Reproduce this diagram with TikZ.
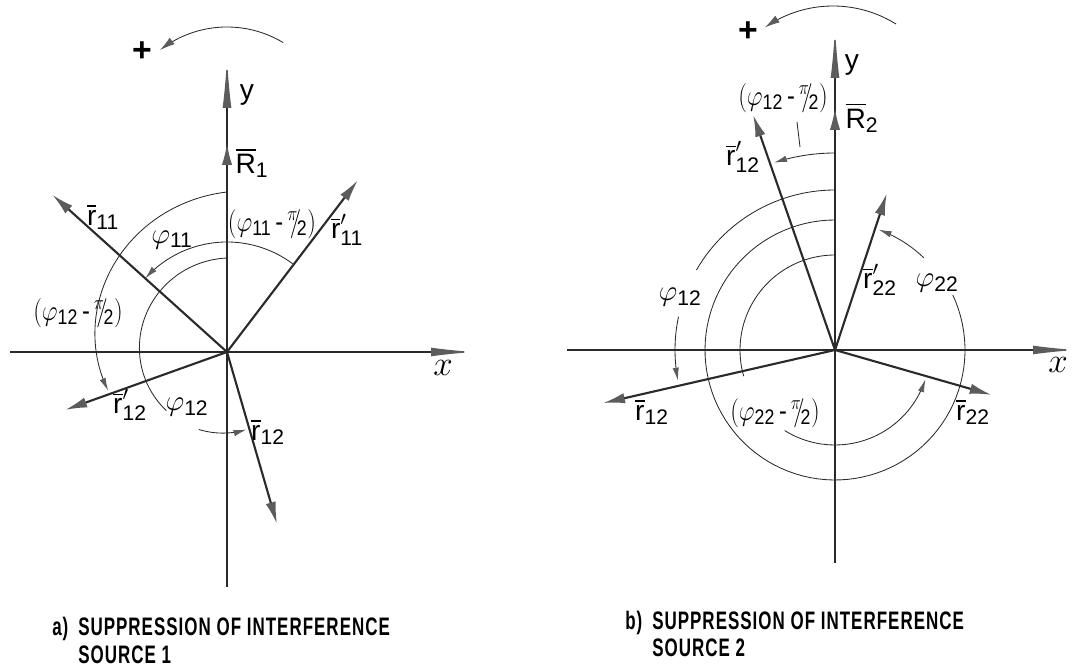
\documentclass[tikz,border=0pt]{standalone}
\usepackage{amsmath}
\usepackage{fontspec}
\setmainfont{Liberation Sans}
\newfontfamily\capfont[FakeStretch=0.67,LetterSpace=4]{Liberation Sans}
\usetikzlibrary{arrows.meta,positioning,calc}
\definecolor{inkline}{HTML}{2A2A2A}
\definecolor{inktip}{HTML}{5C5C5C}
\DeclareMathSizes{20}{20}{15}{12}
\newcommand{\rv}[1]{$\overline{\text{r}}_{\text{#1}}$}
\newcommand{\rvp}[1]{$\overline{\text{r}}'_{\text{#1}}$}
\newcommand{\phv}[1]{$\varphi_{\text{#1}}$}
\newcommand{\phm}[1]{\scalebox{0.84}[1]{$(\varphi_{\text{#1}}\,\text{-}\,{}^{\pi}\!\!/\!_{\text{2}})$}}

\begin{document}
\begin{tikzpicture}[x=0.25mm,y=0.25mm,
  axis/.style={draw=inkline,line width=1pt,-{Latex[length=#1,width=2.2mm,color=inktip]}},
  vec/.style={draw=inkline,line width=1.5pt,-{Latex[length=5.5mm,width=2.6mm,color=inktip]}},
  arcln/.style={draw=inkline,line width=0.6pt},
  arcarr/.style={arcln,-{Latex[length=3.2mm,width=1.6mm,color=inktip]}},
  turn/.style={arcln,-{Latex[length=3.8mm,width=2mm,color=inktip]}},
  lbl/.style={inner sep=1pt,font=\fontsize{20}{23}\selectfont},
  axlbl/.style={inner sep=1pt,font=\fontsize{28}{30}\selectfont},
  pluslbl/.style={inner sep=1pt,font=\bfseries\fontsize{24}{26}\selectfont},
  captxt/.style={inner sep=0pt,font=\capfont\bfseries\fontsize{18}{20}\selectfont}]
  \useasboundingbox (0,0) rectangle (1087,670);

  % a) source 1
  \coordinate (o1) at (227,318);
  \coordinate (x1a) at (10,318);
  \coordinate (x1b) at (475,318);
  \coordinate (y1a) at (227,83);
  \coordinate (y1b) at (227,612);
  \coordinate (R1) at (227,527);
  \coordinate (r11) at ($(o1)+(138:235)$);
  \coordinate (r11p) at ($(o1)+(52.7:216)$);
  \coordinate (r12p) at ($(o1)+(199.7:172)$);
  \coordinate (r12) at ($(o1)+(-73.8:179)$);
  \draw[axis=11mm] (x1a) -- (x1b);
  \draw[axis=12.5mm] (y1a) -- (y1b);
  \draw[vec] (o1) -- (R1);
  \draw[vec] (o1) -- (r11);
  \draw[vec] (o1) -- (r11p);
  \draw[vec] (o1) -- (r12p);
  \draw[vec] (o1) -- (r12);
  \draw[arcarr,shift={(o1)}] plot[domain=53:138,samples=40] (\x:110);
  \draw[arcarr,shift={(o1)}] plot[domain=90:198,samples=50] (\x:{160-35*(\x-90)/108});
  \draw[arcln,shift={(o1)}] plot[domain=90:224,samples=50] (\x:{94-14*(\x-90)/194});
  \draw[arcarr,shift={(o1)}] plot[domain=250:284,samples=20] (\x:{94-14*(\x-90)/194});
  \draw[turn,shift={(227,534)}] plot[domain=59:128,samples=30] (\x:109);
  \node[pluslbl] (plus1) at (142,618) {+};
  \node[lbl] (ly1) at (247,575) {y};
  \node[lbl] (lR1) at (252,507) {$\overline{\text{R}}_{\text{1}}$};
  \node[lbl] (lr11) at (103,453) {\rv{11}};
  \node[lbl] (lph11) at (172,430) {\phv{11}};
  \node[lbl] (lph11m) at (272,446) {\phm{11}};
  \node[lbl] (lr11p) at (347,440) {\rvp{11}};
  \node[lbl] (lph12m) at (78,357) {\phm{12}};
  \node[axlbl] (lx1) at (443,302) {$x$};
  \node[lbl] (lr12p) at (130,265) {\rvp{12}};
  \node[lbl] (lph12) at (187,263) {\phv{12}};
  \node[lbl] (lr12) at (268,238) {\rv{12}};
  \node[captxt,anchor=base west] (capa1) at (78,34) {SUPPRESSION OF INTERFERENCE};
  \node[captxt,anchor=base west] (capa2) at (78,6) {SOURCE 1};
  \node[captxt,anchor=base west] (capa0) at (52,34) {a)};

  % b) source 2
  \coordinate (o2) at (835,320);
  \coordinate (x2a) at (567,320);
  \coordinate (x2b) at (1077,320);
  \coordinate (y2a) at (835,107);
  \coordinate (y2b) at (835,642);
  \coordinate (R2) at (835,562);
  \coordinate (s12p) at ($(o2)+(109.2:249)$);
  \coordinate (s22p) at ($(o2)+(71.7:165)$);
  \coordinate (s12) at ($(o2)+(192.9:238)$);
  \coordinate (s22) at ($(o2)+(-16:163)$);
  \draw[axis=11mm] (x2a) -- (x2b);
  \draw[axis=12.5mm] (y2a) -- (y2b);
  \draw[vec] (o2) -- (R2);
  \draw[vec] (o2) -- (s12p);
  \draw[vec] (o2) -- (s22p);
  \draw[vec] (o2) -- (s12);
  \draw[vec] (o2) -- (s22);
  \draw[arcarr,shift={(o2)}] plot[domain=90:108,samples=15] (\x:197);
  \draw[arcln,shift={(o2)}] plot[domain=90:150,samples=30] (\x:160);
  \draw[arcarr,shift={(o2)}] plot[domain=168:191,samples=15] (\x:160);
  \draw[arcln,shift={(o2)}] plot[domain=90:385,samples=90] (\x:130);
  \draw[arcarr,shift={(o2)}] plot[domain=406:430,samples=15] (\x:128);
  \draw[arcln,shift={(o2)}] plot[domain=90:196,samples=40] (\x:95);
  \draw[arcarr,shift={(o2)}] plot[domain=238:342,samples=40] (\x:95);
  \draw[turn,shift={(833,545)}] plot[domain=58:125,samples=30] (\x:119);
  \node[pluslbl] (plus2) at (748,638) {+};
  \node[lbl] (ly2) at (852,605) {y};
  \node[lbl] (lR2) at (862,552) {$\overline{\text{R}}_{\text{2}}$};
  \node[lbl] (lq12m) at (783,572) {\phm{12}};
  \draw[arcln] (797,548) -- (800,523);
  \node[lbl] (ls12p) at (743,513) {\rvp{12}};
  \node[lbl] (ls22p) at (880,390) {\rvp{22}};
  \node[lbl] (lq22) at (937,387) {\phv{22}};
  \node[lbl] (lq12) at (680,373) {\phv{12}};
  \node[axlbl] (lx2) at (1058,305) {$x$};
  \node[lbl] (ls12) at (652,258) {\rv{12}};
  \node[lbl] (lq22m) at (775,257) {\phm{22}};
  \node[lbl] (ls22) at (973,258) {\rv{22}};
  \node[captxt,anchor=base west] (capb1) at (652,40) {SUPPRESSION OF INTERFERENCE};
  \node[captxt,anchor=base west] (capb2) at (652,13) {SOURCE 2};
  \node[captxt,anchor=base west] (capb0) at (625,40) {b)};
\end{tikzpicture}
\end{document}
